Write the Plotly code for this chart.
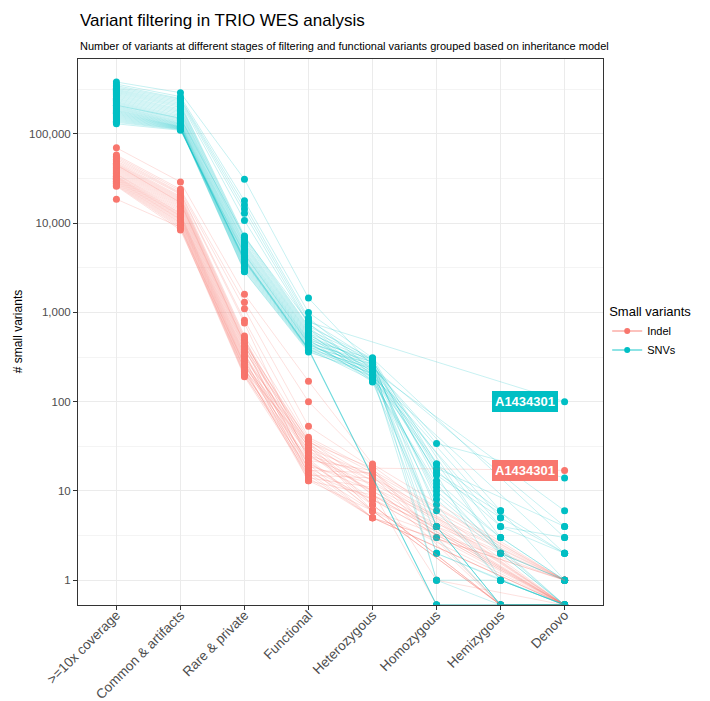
import math
import plotly.graph_objects as go

# ---------------- data ----------------
CATEGORIES = [">=10x coverage", "Common & artifacts", "Rare & private", "Functional",
              "Heterozygous", "Homozygous", "Hemizygous", "Denovo"]
SERIES = ["Indel", "SNVs"]
LABEL_SAMPLE = "A1434301"
SAMPLES = ["S%02d" % (i + 1) for i in range(39)] + [LABEL_SAMPLE]

# SNVs (None = category not reported for that sample, 0 = zero variants)
snv_coverage = [382000, 362000, 348000, 336000, 326000, 316000, 308000, 300000, 292000, 284000,
                276000, 268000, 260000, 252000, 245000, 238000, 231000, 225000, 219000, 213000,
                207000, 202000, 197000, 192000, 187000, 183000, 179000, 175000, 171000, 167000,
                163000, 159000, 155000, 151000, 147000, 143000, 139000, 135000, 130000, 210000]
snv_common = [290000, 262000, 250000, 244000, 236000, 228000, 220000, 212000, 205000, 198000,
              190000, 184000, 178000, 172000, 166000, 160000, 155000, 150000, 146000, 142000,
              138000, 135000, 132000, 130000, 128000, 126000, 124000, 122000, 121000, 120000,
              119000, 118000, 117000, 116000, 115000, 114000, 113000, 112000, 110000, 150000]
snv_rare = [31000, 17800, 16000, 14400, 12900, 10700, 7200, 6900, 6600, 6300,
            6000, 5800, 5600, 5400, 5200, 5000, 4850, 4700, 4550, 4400,
            4250, 4100, 3950, 3800, 3700, 3600, 3500, 3400, 3300, 3200,
            3100, 3000, 2900, 2850, 4000, 3900, 3850, 3750, 4500, 7000]
snv_functional = [1450, 1000, 870, 820, 760, 740, 700, 680, 660, 640,
                  620, 600, 585, 570, 555, 540, 525, 510, 500, 490,
                  480, 470, 460, 450, 440, 430, 420, 410, 400, 392,
                  385, 378, 370, 360, 390, 395, 385, 380, 450, 780]
snv_het = [250, 310, 226, 290, 198, 270, 305, 214, 182, 296,
           242, 170, 285, 206, 260, 190, 276, 234, 166, 300,
           222, 255, 178, 280, 202, 246, 186, 265, 230, 174,
           238, 218, 194, 210, None, None, None, None, 200, None]
snv_hom = [34, 20, None, 18, None, 17, None, 16, None, 13,
           None, 11, None, 10, 8, None, 6, None, 4, 4,
           4, 2, 2, 1, 1, None, 20, 15, None, 12,
           9, None, 7, 3, 0, 0, 0, 0, 4, None]
snv_hemi = [None, 6, None, None, 5, 4, None, None, 4, 3,
            None, 3, 2, None, 2, None, 1, 1, 0, 0,
            0, 1, None, 0, 1, 6, None, 5, 3, 2,
            None, 2, 1, 0, None, None, None, None, 0, None]
snv_denovo = [14, None, 6, 4, None, 3, 3, 2, 2, None,
              4, 1, 1, 0, 0, 2, 0, 0, 0, None,
              0, 0, 0, 0, 0, 1, None, 2, 1, 1,
              0, 0, 0, 0, 0, 0, 0, 0, 0, 100]

# Indels
indel_coverage = [70000, 58000, 56000, 54000, 52000, 50000, 48500, 47000, 46000, 45000,
                  44000, 43000, 42000, 41000, 40000, 39000, 38000, 37000, 36000, 35500,
                  35000, 34000, 33500, 33000, 32500, 32000, 31500, 31000, 30500, 30000,
                  29500, 29000, 28500, 28000, 27500, 27000, 26500, 26000, 18600, 45000]
indel_common = [29000, 24000, 23000, 22000, 21500, 21000, 20000, 19500, 19000, 18500,
                18000, 17500, 17000, 16500, 16000, 15500, 15000, 14500, 14000, 13500,
                13000, 12800, 12500, 12200, 12000, 11800, 11500, 11200, 11000, 10800,
                10500, 10200, 10000, 9700, 9400, 9100, 8800, 8400, 9000, 17000]
indel_rare = [1600, 1300, 1100, 820, 760, 545, 520, 500, 480, 460,
              445, 430, 415, 400, 385, 370, 355, 340, 330, 320,
              310, 300, 290, 280, 270, 262, 255, 248, 240, 232,
              225, 218, 210, 205, 200, 195, 190, 230, 260, 450]
indel_functional = [170, 100, 53, 40, 22, 38, 17, 30, 25, 36,
                    15, 28, 33, 19, 24, 37, 14, 27, 20, 31,
                    13, 35, 18, 26, 16, 34, 21, 29, 13, 23,
                    32, 17, 22, 20, 16, 18, 15, 14, 25, 35]
indel_het = [20, 19, 18, 17, 17, 16, 16, 15, 15, 14,
             14, 13, 13, 12, 12, 11, 11, 10, 10, 9,
             9, 9, 8, 8, 8, 7, 7, 7, 6, 6,
             6, 6, 6, 5, 5, 5, 5, 5, 10, 18]
indel_hom = [None, None, None, None, 3, None, None, None, None, None,
             None, 1, None, None, None, None, None, None, 0, None,
             None, None, None, None, None, None, None, None, None, None,
             None, None, None, None, None, None, None, None, None, None]
indel_hemi = [None, None, 0, None, None, None, None, None, 0, None,
              None, None, None, None, 0, None, None, None, None, None,
              None, None, None, None, None, 0, 0, 0, 0, 0,
              0, None, None, None, None, None, None, None, None, None]
indel_denovo = [1, 0, 0, 1, 0, 0, 1, 0, 0, 1,
                0, 0, 0, 1, 0, 0, 1, 0, 0, 1,
                0, 0, 1, 0, 0, 0, 0, 0, 0, 0,
                0, 1, 0, 0, 1, 0, 0, 1, 0, 17]

SNV_STAGES = [snv_coverage, snv_common, snv_rare, snv_functional,
              snv_het, snv_hom, snv_hemi, snv_denovo]
INDEL_STAGES = [indel_coverage, indel_common, indel_rare, indel_functional,
                indel_het, indel_hom, indel_hemi, indel_denovo]

COLORS = {"Indel": "#F8766D", "SNVs": "#00BFC4"}
LINE_COLORS = {"Indel": "rgba(248,118,109,0.22)", "SNVs": "rgba(0,191,196,0.22)"}
LEGEND_LINE = {"Indel": "rgba(248,118,109,0.6)", "SNVs": "rgba(0,191,196,0.6)"}

# log10 axis limits (ggplot-style 5% expansion); zero counts sit on the lower panel edge
Y_LOG_MIN, Y_LOG_MAX = -0.278, 5.84
FLOOR = 10 ** Y_LOG_MIN


def to_plot(v):
    if v is None:
        return None
    return FLOOR if v == 0 else v


fig = go.Figure()

# points
for name, stages in (("Indel", INDEL_STAGES), ("SNVs", SNV_STAGES)):
    xs, ys = [], []
    for cat, vals in zip(CATEGORIES, stages):
        for v in vals:
            if v is not None:
                xs.append(cat)
                ys.append(to_plot(v))
    fig.add_trace(go.Scatter(x=xs, y=ys, mode="markers",
                             marker=dict(color=COLORS[name], size=7, line=dict(width=0)),
                             showlegend=False, hoverinfo="skip"))

# per-sample lines
for name, stages in (("Indel", INDEL_STAGES), ("SNVs", SNV_STAGES)):
    for i, s in enumerate(SAMPLES):
        ys = [to_plot(stage[i]) for stage in stages]
        fig.add_trace(go.Scatter(x=CATEGORIES, y=ys, mode="lines", connectgaps=True,
                                 line=dict(color=LINE_COLORS[name], width=1),
                                 showlegend=False, hoverinfo="skip", name=s))

# legend entries
for name in SERIES:
    fig.add_trace(go.Scatter(x=[None], y=[None], mode="lines+markers", name=name,
                             line=dict(color=LEGEND_LINE[name], width=1.5),
                             marker=dict(color=COLORS[name], size=6)))

FONT = "Liberation Sans, Arial, sans-serif"

# sample labels at Denovo
lab_idx = SAMPLES.index(LABEL_SAMPLE)
for name, stages in (("SNVs", SNV_STAGES), ("Indel", INDEL_STAGES)):
    val = stages[-1][lab_idx]
    fig.add_annotation(x=CATEGORIES[-1], y=math.log10(val), xref="x", yref="y",
                       text="<b>%s</b>" % LABEL_SAMPLE, showarrow=False,
                       xanchor="right", yanchor="middle", xshift=-7,
                       font=dict(family=FONT, size=13, color="white"),
                       bgcolor=COLORS[name], bordercolor=COLORS[name], borderpad=3, borderwidth=0)

# title / subtitle / y title
fig.add_annotation(x=0, y=1.071, xref="paper", yref="paper", xanchor="left", yanchor="middle",
                   text="Variant filtering in TRIO WES analysis", showarrow=False,
                   font=dict(family=FONT, size=17, color="#000000"))
fig.add_annotation(x=0, y=1.024, xref="paper", yref="paper", xanchor="left", yanchor="middle",
                   text="Number of variants at different stages of filtering and functional variants grouped based on inheritance model",
                   showarrow=False, font=dict(family=FONT, size=11, color="#000000"))
fig.add_annotation(x=-0.114, y=0.5, xref="paper", yref="paper", xanchor="center", yanchor="middle",
                   text="# small variants", textangle=-90, showarrow=False,
                   font=dict(family=FONT, size=12, color="#000000"))

TICKVALS = [1, 10, 100, 1000, 10000, 100000]
TICKTEXT = ["1", "10", "100", "1,000", "10,000", "100,000"]
MINOR = [10 ** (k + 0.5) for k in range(-1, 6)]

# the page body adds an 8px offset, so the figure is 8px smaller than the window
fig.update_layout(
    width=702, height=693,
    margin=dict(l=70, r=107, t=51, b=96, autoexpand=False),
    paper_bgcolor="white", plot_bgcolor="white",
    font=dict(family=FONT, color="#000000"),
    showlegend=True,
    legend=dict(title=dict(text="Small variants", font=dict(size=13, family=FONT)),
                font=dict(size=11, family=FONT), x=1.008, xanchor="left",
                y=0.5, yanchor="middle", bgcolor="rgba(0,0,0,0)", tracegroupgap=2),
    xaxis=dict(type="category", categoryorder="array", categoryarray=CATEGORIES,
               range=[-0.6, len(CATEGORIES) - 0.4], automargin=False,
               showgrid=True, gridcolor="#EBEBEB", gridwidth=1,
               showline=True, mirror=True, linecolor="#333333", linewidth=1,
               ticks="outside", ticklen=4, tickcolor="#333333", tickangle=-45,
               ticklabelstandoff=-8,
               tickfont=dict(size=13.5, color="#4D4D4D", family=FONT), zeroline=False),
    yaxis=dict(type="log", range=[Y_LOG_MIN, Y_LOG_MAX], automargin=False,
               tickvals=TICKVALS, ticktext=TICKTEXT,
               showgrid=True, gridcolor="#EBEBEB", gridwidth=1,
               minor=dict(tickvals=MINOR, showgrid=True, gridcolor="#F4F4F4", gridwidth=0.6, ticks=""),
               showline=True, mirror=True, linecolor="#333333", linewidth=1,
               ticks="outside", ticklen=4, tickcolor="#333333",
               tickfont=dict(size=11.5, color="#4D4D4D", family=FONT), zeroline=False),
)

fig.write_html("out.html")
